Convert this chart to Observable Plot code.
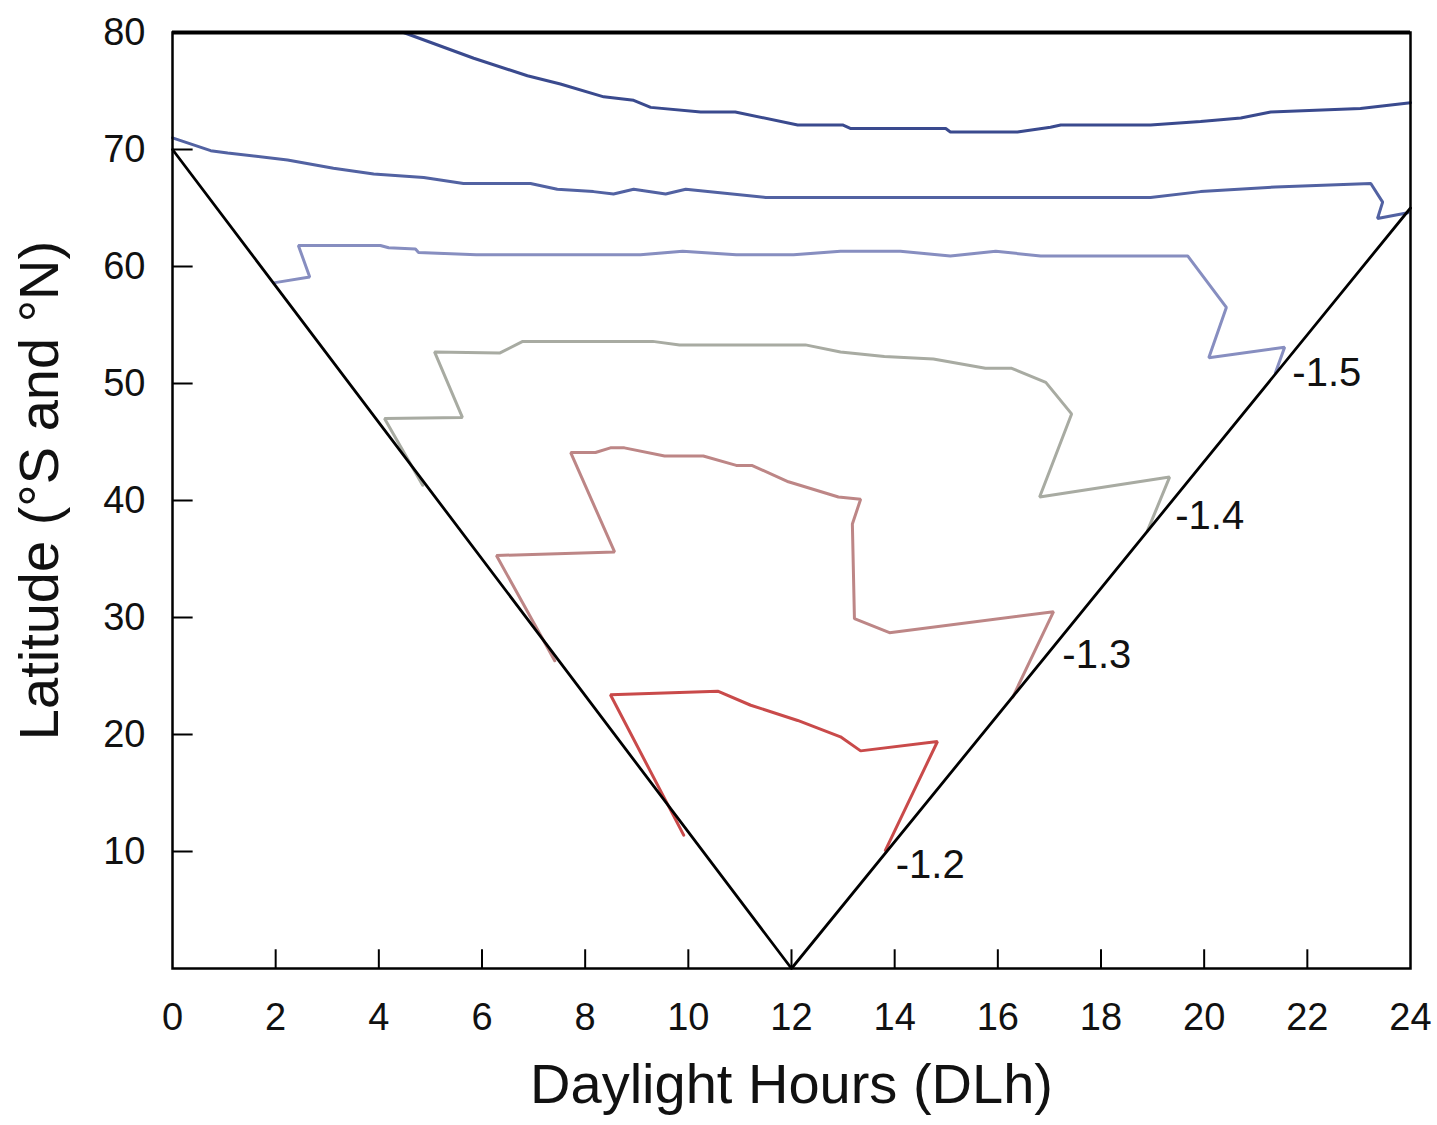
<!DOCTYPE html>
<html>
<head>
<meta charset="utf-8">
<script src="https://cdn.jsdelivr.net/npm/d3@7"></script>
<script src="https://cdn.jsdelivr.net/npm/@observablehq/plot@0.6"></script>
<style>
  html, body { margin: 0; padding: 0; background: #fff; }
  #chart { width: 1437px; height: 1125px; }
</style>
</head>
<body>
<div id="chart"></div>
<script>
// Contour lines: [daylight hours, latitude]
const curveTop = [[4.48,80],[5.84,77.8],[6.88,76.3],[7.52,75.6],[8.36,74.5],[8.94,74.2],[9.27,73.6],[10.24,73.2],[10.91,73.2],[12.12,72.1],[12.99,72.1],[13.14,71.8],[14.99,71.8],[15.08,71.5],[16.38,71.5],[17.02,71.9],[17.22,72.1],[18.96,72.1],[19.93,72.4],[20.71,72.7],[21.29,73.2],[23.03,73.5],[24,74.0]];
const curveSecond = [[0,71.0],[0.74,69.9],[1.07,69.7],[2.23,69.1],[3.12,68.4],[3.90,67.9],[4.87,67.6],[5.64,67.1],[6.94,67.1],[7.46,66.6],[8.16,66.4],[8.55,66.2],[8.94,66.6],[9.56,66.2],[9.95,66.6],[11.50,65.9],[18.96,65.9],[19.93,66.4],[21.38,66.8],[23.23,67.1],[23.46,65.5],[23.36,64.1],[23.95,64.6]];
const curve15 = [[1.96,58.6],[2.66,59.1],[2.44,61.8],[4.03,61.8],[4.19,61.6],[4.71,61.5],[4.77,61.2],[5.89,61.0],[9.07,61.0],[9.89,61.3],[10.93,61.0],[12.04,61.0],[12.95,61.3],[14.11,61.3],[15.08,60.9],[15.96,61.3],[16.83,60.9],[19.68,60.9],[20.43,56.5],[20.09,52.2],[21.56,53.1],[21.38,50.9]];
const curve14 = [[4.85,41.3],[4.11,47.0],[5.62,47.1],[5.08,52.7],[6.34,52.6],[6.79,53.6],[9.31,53.6],[9.83,53.3],[12.27,53.3],[12.95,52.7],[13.80,52.3],[14.75,52.1],[15.76,51.3],[16.27,51.3],[16.93,50.1],[17.43,47.4],[16.81,40.3],[19.33,42.0],[18.90,37.4]];
const curve13 = [[7.41,26.3],[6.28,35.3],[8.57,35.6],[7.72,44.1],[8.20,44.1],[8.49,44.5],[8.76,44.5],[9.54,43.8],[10.29,43.8],[10.93,43.0],[11.23,43.0],[11.94,41.6],[12.91,40.3],[13.34,40.1],[13.18,38.0],[13.22,29.9],[13.90,28.7],[17.08,30.5],[16.29,23.2]];
const curve12 = [[9.91,11.4],[8.49,23.4],[10.57,23.7],[11.21,22.5],[12.12,21.2],[12.95,19.8],[13.34,18.6],[14.83,19.4],[13.82,10.1]];

const curveNames = ["top", "second", "-1.5", "-1.4", "-1.3", "-1.2"];
const curveColors = ["#3a4a8e", "#5262a2", "#878ec0", "#a8aba2", "#bd8686", "#c94a4a"];
const curveList = [curveTop, curveSecond, curve15, curve14, curve13, curve12];

// Daylight-hours envelope (V)
const envelope = [[0,70],[12,0],[24,65]];

// Contour labels
const labelTexts = ["-1.5", "-1.4", "-1.3", "-1.2"];
const labelX = [21.71, 19.44, 17.25, 14.02];
const labelY = [50.9, 38.7, 26.8, 8.8];

const xTicks = [0,2,4,6,8,10,12,14,16,18,20,22,24];
const yTicks = [10,20,30,40,50,60,70,80];
const xTitle = "Daylight Hours (DLh)";
const yTitle = "Latitude (°S and °N)";

const rows = [];
curveList.forEach((c, i) => c.forEach(([h, lat]) => rows.push({name: curveNames[i], h, lat})));
const labels = labelTexts.map((t, i) => ({t, x: labelX[i], y: labelY[i]}));
const env = envelope.map(([h, lat]) => ({h, lat}));

const chart = Plot.plot({
  width: 1437,
  height: 1125,
  marginLeft: 172,
  marginRight: 27,
  marginTop: 32,
  marginBottom: 157,
  style: {fontFamily: "'Liberation Sans', Arial, Helvetica, sans-serif", color: "#111", background: "#fff"},
  x: {domain: [0, 24]},
  y: {domain: [0, 80]},
  color: {domain: curveNames, range: curveColors},
  marks: [
    Plot.line(rows, {x: "h", y: "lat", z: "name", stroke: "name", strokeWidth: 3, strokeLinejoin: "miter"}),
    Plot.line(env, {x: "h", y: "lat", stroke: "black", strokeWidth: 2.8}),
    Plot.ruleX(xTicks.slice(1, -1), {y1: 0, y2: 1.6, stroke: "black", strokeWidth: 2}),
    Plot.ruleY(yTicks.slice(0, -1), {x1: 0, x2: 0.4, stroke: "black", strokeWidth: 2}),
    Plot.frame({stroke: "black", strokeWidth: 2.5}),
    Plot.ruleY([80], {stroke: "black", strokeWidth: 4}),
    Plot.axisX({ticks: xTicks, tickSize: 0, tickPadding: 35, fontSize: 38, label: null, tickFormat: d => String(d)}),
    Plot.axisY({ticks: yTicks, tickSize: 0, tickPadding: 27, fontSize: 38, label: null, tickFormat: d => String(d)}),
    Plot.text(labels, {x: "x", y: "y", text: "t", textAnchor: "start", fontSize: 40, fill: "#111"}),
    Plot.text([xTitle], {frameAnchor: "bottom", textAnchor: "middle", dy: 134, fontSize: 56, fill: "#111"}),
    Plot.text([yTitle], {frameAnchor: "left", textAnchor: "middle", dx: -132, dy: -10, rotate: -90, fontSize: 56, fill: "#111"})
  ]
});
document.getElementById("chart").appendChild(chart);
</script>
</body>
</html>
